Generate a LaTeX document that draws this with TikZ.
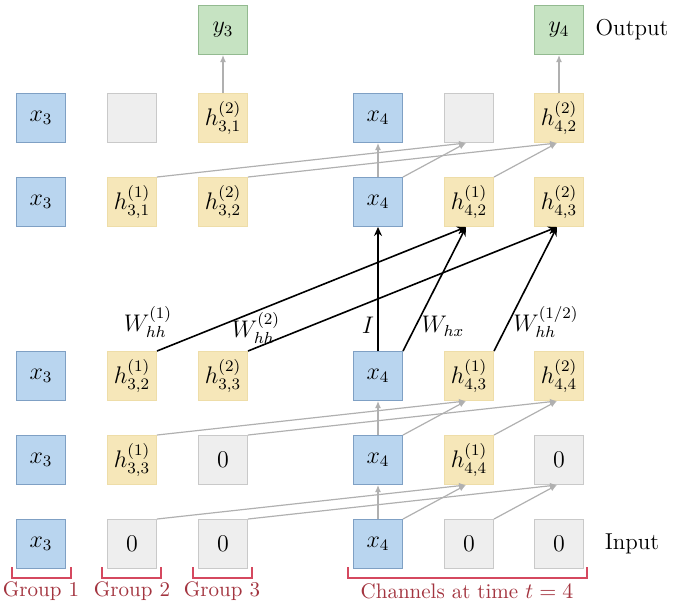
\documentclass[tikz,border=0pt]{standalone}
\usetikzlibrary{arrows.meta}
\definecolor{bluefill}{HTML}{B9D5EF}
\definecolor{blueline}{HTML}{7FA0C4}
\definecolor{grayfill}{HTML}{EEEEEE}
\definecolor{grayline}{HTML}{C9C9C9}
\definecolor{yelfill}{HTML}{F6E7B9}
\definecolor{yelline}{HTML}{EEDDA8}
\definecolor{grnfill}{HTML}{C6E3C2}
\definecolor{grnline}{HTML}{93BA90}
\definecolor{arrgray}{HTML}{B0B0B0}
\definecolor{brkred}{HTML}{D5485F}
\definecolor{txtred}{HTML}{A3343F}
\begin{document}
\begin{tikzpicture}[x=0.5pt,y=-0.5pt,
  cell/.style={minimum width=24.5pt,minimum height=24.5pt,inner sep=0pt,font=\large,line width=0.5pt},
  bcell/.style={cell,fill=bluefill,draw=blueline},
  gcell/.style={cell,fill=grayfill,draw=grayline},
  ycell/.style={cell,fill=yelfill,draw=yelline},
  ocell/.style={cell,fill=grnfill,draw=grnline},
  garr/.style={draw=arrgray,line width=0.6pt,-{Latex[length=3.5pt,width=3pt]}},
  karr/.style={draw=black,line width=0.8pt,-{Stealth[length=4.5pt,width=4pt]}},
  wlab/.style={font=\large},
  brk/.style={draw=brkred,line width=0.6pt},
  grp/.style={text=txtred,font=\fontsize{10.5}{12}\selectfont},
  side/.style={font=\fontsize{11.5}{14}\selectfont}
]
\useasboundingbox (0,0) rectangle (673,602);
% columns: 41,132,222,378,469,559 ; rows: 30,118,202,377,460,544
% row 0 (output)
\node[ocell] (r0c3) at (223,30) {$y_3$};
\node[ocell] (r0c6) at (559,30) {$y_4$};
% row 1
\node[bcell] (r1c1) at (41,118) {$x_3$};
\node[gcell] (r1c2) at (132,118) {};
\node[ycell] (r1c3) at (223,118) {$h^{(2)}_{3,1}$};
\node[bcell] (r1c4) at (378,118) {$x_4$};
\node[gcell] (r1c5) at (469,118) {};
\node[ycell] (r1c6) at (559,118) {$h^{(2)}_{4,2}$};
% row 2
\node[bcell] (r2c1) at (41,202) {$x_3$};
\node[ycell] (r2c2) at (132,202) {$h^{(1)}_{3,1}$};
\node[ycell] (r2c3) at (223,202) {$h^{(2)}_{3,2}$};
\node[bcell] (r2c4) at (378,202) {$x_4$};
\node[ycell] (r2c5) at (469,202) {$h^{(1)}_{4,2}$};
\node[ycell] (r2c6) at (559,202) {$h^{(2)}_{4,3}$};
% row 3
\node[bcell] (r3c1) at (41,376) {$x_3$};
\node[ycell] (r3c2) at (132,376) {$h^{(1)}_{3,2}$};
\node[ycell] (r3c3) at (223,376) {$h^{(2)}_{3,3}$};
\node[bcell] (r3c4) at (378,376) {$x_4$};
\node[ycell] (r3c5) at (469,376) {$h^{(1)}_{4,3}$};
\node[ycell] (r3c6) at (559,376) {$h^{(2)}_{4,4}$};
% row 4
\node[bcell] (r4c1) at (41,460) {$x_3$};
\node[ycell] (r4c2) at (132,460) {$h^{(1)}_{3,3}$};
\node[gcell] (r4c3) at (223,460) {$0$};
\node[bcell] (r4c4) at (378,460) {$x_4$};
\node[ycell] (r4c5) at (469,460) {$h^{(1)}_{4,4}$};
\node[gcell] (r4c6) at (559,460) {$0$};
% row 5
\node[bcell] (r5c1) at (41,544) {$x_3$};
\node[gcell] (r5c2) at (132,544) {$0$};
\node[gcell] (r5c3) at (223,544) {$0$};
\node[bcell] (r5c4) at (378,544) {$x_4$};
\node[gcell] (r5c5) at (469,544) {$0$};
\node[gcell] (r5c6) at (559,544) {$0$};
% side labels
\node[side] (out) at (632,30) {Output};
\node[side] (inp) at (632,544) {Input};
% gray arrows top
\draw[garr] (r1c3.north) -- (r0c3.south);
\draw[garr] (r1c6.north) -- (r0c6.south);
\draw[garr] (r2c4.north) -- (r1c4.south);
\draw[garr] (r2c2.north east) -- ([xshift=-1.5pt]r1c5.south);
\draw[garr] (r2c4.north east) -- ([xshift=-1.5pt]r1c5.south);
\draw[garr] (r2c3.north east) -- ([xshift=-1pt]r1c6.south);
\draw[garr] (r2c5.north east) -- ([xshift=-1pt]r1c6.south);
% black arrows
\draw[karr] (r3c4.north) -- (r2c4.south);
\draw[karr] (r3c4.north east) -- ([xshift=-1.5pt]r2c5.south);
\draw[karr] (r3c2.north east) -- ([xshift=-1.5pt]r2c5.south);
\draw[karr] (r3c3.north east) -- ([xshift=-1pt]r2c6.south);
\draw[karr] (r3c5.north east) -- ([xshift=-1pt]r2c6.south);
% weight labels
\node[wlab] (w1) at (148,322) {$W^{(1)}_{hh}$};
\node[wlab] (w2) at (256,328) {$W^{(2)}_{hh}$};
\node[wlab] (wi) at (368,325) {$I$};
\node[wlab] (wx) at (443,326) {$W_{hx}$};
\node[wlab] (w12) at (546,322) {$W^{(1/2)}_{hh}$};
% gray arrows rows 4 -> 3
\draw[garr] (r4c4.north) -- (r3c4.south);
\draw[garr] (r4c2.north east) -- ([xshift=-1.5pt]r3c5.south);
\draw[garr] (r4c4.north east) -- ([xshift=-1.5pt]r3c5.south);
\draw[garr] (r4c3.north east) -- ([xshift=-1pt]r3c6.south);
\draw[garr] (r4c5.north east) -- ([xshift=-1pt]r3c6.south);
% gray arrows rows 5 -> 4
\draw[garr] (r5c4.north) -- (r4c4.south);
\draw[garr] (r5c2.north east) -- ([xshift=-1.5pt]r4c5.south);
\draw[garr] (r5c4.north east) -- ([xshift=-1.5pt]r4c5.south);
\draw[garr] (r5c3.north east) -- ([xshift=-1pt]r4c6.south);
\draw[garr] (r5c5.north east) -- ([xshift=-1pt]r4c6.south);
% brackets
\draw[brk] (12,567) -- (12,578) -- (71,578) -- (71,567);
\draw[brk] (102,567) -- (102,578) -- (161,578) -- (161,567);
\draw[brk] (193,567) -- (193,578) -- (252,578) -- (252,567);
\draw[brk] (348,567) -- (348,578) -- (587,578) -- (587,567);
\node[grp] (g1) at (41,591) {Group 1};
\node[grp] (g2) at (132,591) {Group 2};
\node[grp] (g3) at (222,591) {Group 3};
\node[grp] (g4) at (467,591) {Channels at time $t=4$};
\end{tikzpicture}
\end{document}
